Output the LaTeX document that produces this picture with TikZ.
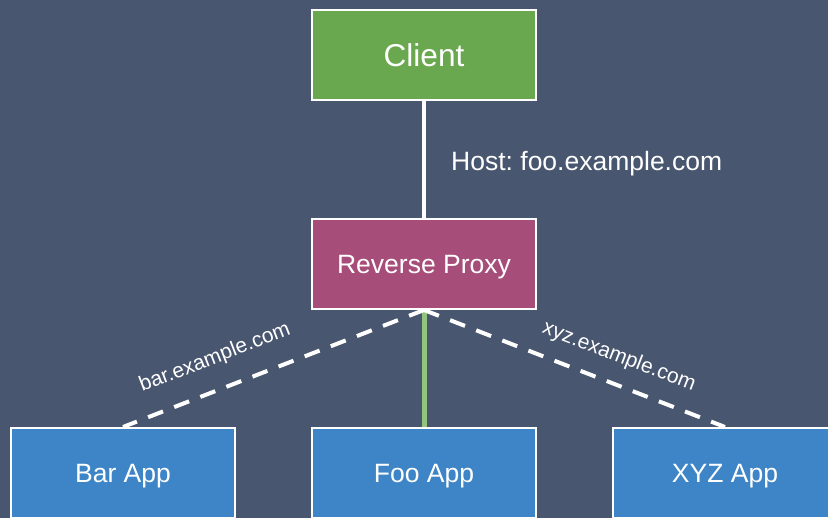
\documentclass[tikz,border=0pt]{standalone}
\usepackage{fontspec}
\setmainfont{Liberation Sans}
\usetikzlibrary{backgrounds}
\definecolor{slatebg}{HTML}{495670}
\definecolor{clientgreen}{HTML}{6AA84F}
\definecolor{proxyplum}{HTML}{A64D79}
\definecolor{appblue}{HTML}{3D85C6}
\definecolor{foogreen}{HTML}{93C47D}
\frenchspacing
\begin{document}
\begin{tikzpicture}[x=1pt,y=-1pt,
  box/.style={draw=white, line width=2pt, minimum width=224pt, minimum height=90pt,
    inner sep=0pt, text=white, text height=19pt, text depth=0pt,
    font=\fontsize{26.5}{30}\selectfont},
  routeline/.style={draw=white, line width=4pt, dash pattern=on 16pt off 12pt},
  lbl/.style={text=white, inner sep=0pt, font=\fontsize{21}{24}\selectfont}]
  % canvas
  \useasboundingbox (0,0) rectangle (828,518);
  \clip (0,0) rectangle (828,518);

  % nodes
  \node[box, fill=clientgreen, text height=22.6pt, font=\fontsize{31.6}{36}\selectfont] (client) at (424,55.5) {Client};
  \node[box, fill=proxyplum] (proxy) at (424,264) {Reverse Proxy};
  \node[box, fill=appblue] (bar) at (123,473) {Bar App};
  \node[box, fill=appblue] (foo) at (424,473) {Foo App};
  \node[box, fill=appblue] (xyz) at (725,473) {XYZ App};

  % backdrop and connectors, kept under the boxes
  \begin{scope}[on background layer]
    \fill[slatebg] (0,0) rectangle (828,518);
    \draw[white, line width=3.5pt] (client.south) -- (proxy.north);
    \draw[foogreen, line width=5pt] (proxy.south) -- (foo.north);
    \draw[routeline] (proxy.south) -- (bar.north);
    \draw[routeline] (proxy.south) -- (xyz.north);
  \end{scope}

  % connector labels
  \node[lbl, anchor=base west, font=\fontsize{26.5}{30}\selectfont] (hostlbl) at (451,171) {Host: foo.example.com};
  \node[lbl, anchor=base, rotate=21.2] (barlbl) at (217,363) {bar.example.com};
  \node[lbl, anchor=base, rotate=-21.2] (xyzlbl) at (617,362) {xyz.example.com};
\end{tikzpicture}
\end{document}
